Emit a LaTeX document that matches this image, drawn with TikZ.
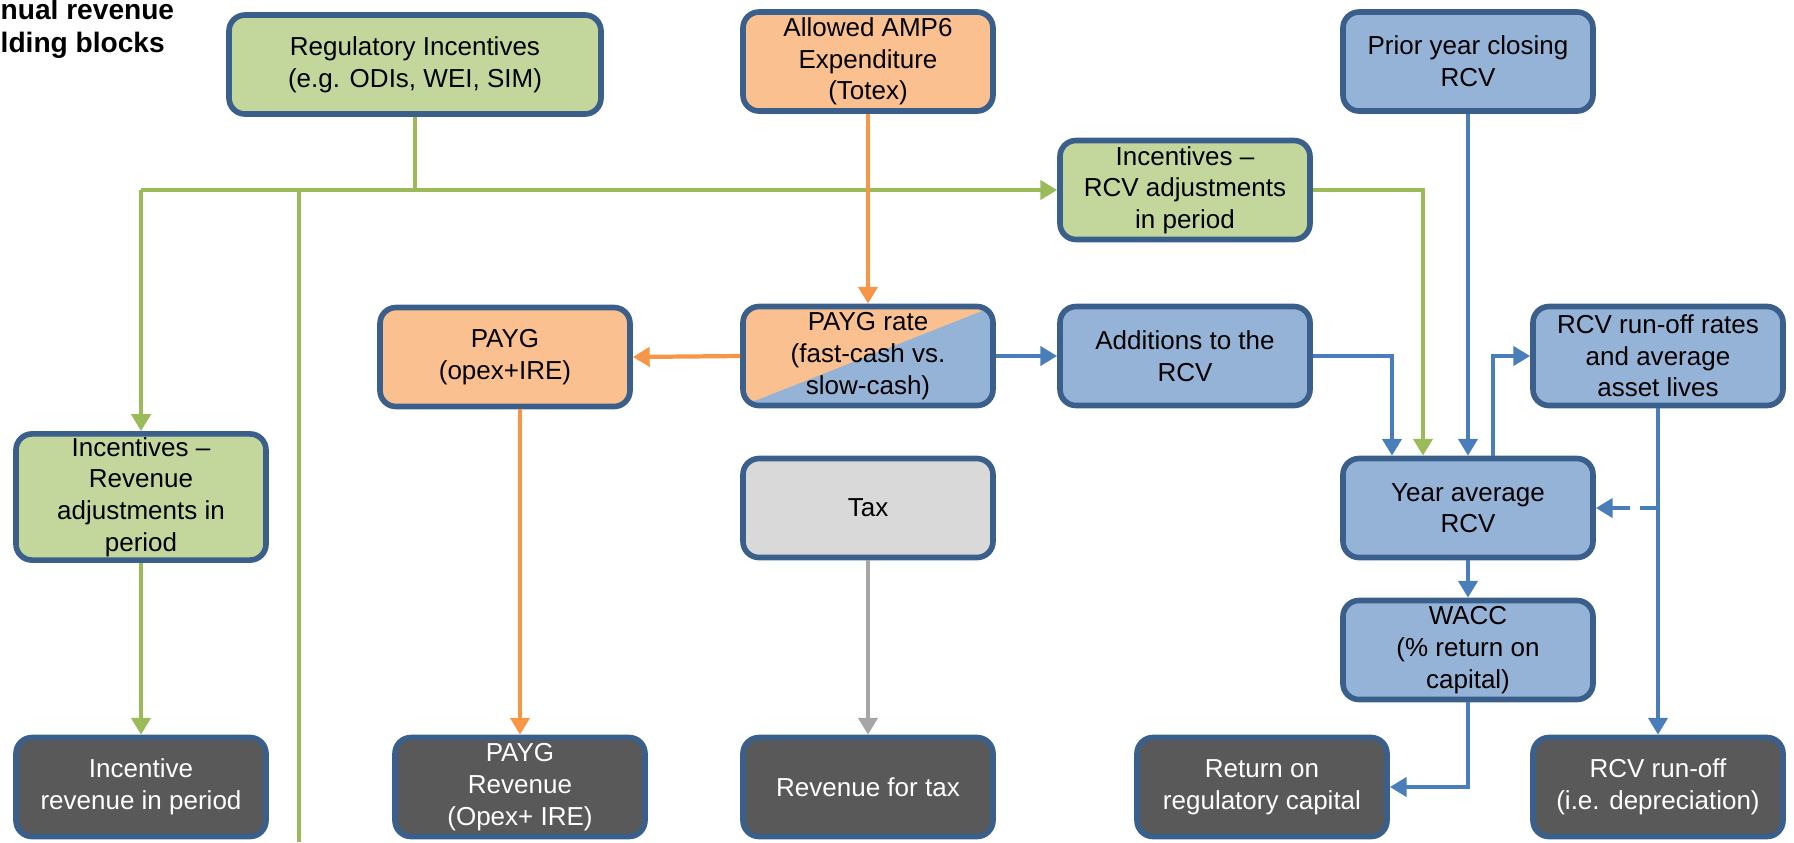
\documentclass[tikz,border=0pt]{standalone}
\usepackage{fontspec}
\setmainfont{Liberation Sans}
\usetikzlibrary{arrows.meta}
\definecolor{bordc}{HTML}{3A5F8B}
\definecolor{grnfill}{HTML}{C3D69B}
\definecolor{grnline}{HTML}{9BBB59}
\definecolor{orgfill}{HTML}{FAC090}
\definecolor{orgline}{HTML}{F79646}
\definecolor{blufill}{HTML}{95B3D7}
\definecolor{bluline}{HTML}{4A7EBB}
\definecolor{gryfill}{HTML}{D9D9D9}
\definecolor{gryline}{HTML}{A6A6A6}
\definecolor{drkfill}{HTML}{595959}

\begin{document}
\begin{tikzpicture}[
  blk/.style={draw=bordc, line width=1.6pt, rounded corners=1.6mm, minimum width=2.5cm,
    minimum height=0.99cm, align=center, inner sep=1pt, font=\fontsize{7.4}{9}\selectfont},
  grnbox/.style={blk, fill=grnfill},
  orgbox/.style={blk, fill=orgfill},
  blubox/.style={blk, fill=blufill},
  grybox/.style={blk, fill=gryfill},
  drkbox/.style={blk, fill=drkfill, text=white},
  link/.style={line width=1.2pt, -{Triangle[width=5.4pt,length=4.8pt]}},
  plain/.style={line width=1.2pt}
]
\useasboundingbox (0,0) rectangle (17.94,-8.42);

% title
\node[anchor=north west, align=left, inner sep=0pt, font=\fontsize{8}{9.5}\selectfont\bfseries] (title) at (0,0.02) {nual revenue\\lding blocks};

% top row
\node[grnbox, minimum width=3.72cm] (RegInc) at (4.15,-0.645) {Regulatory Incentives\\(e.g. ODIs, WEI, SIM)};
\node[orgbox] (Totex) at (8.68,-0.615) {Allowed AMP6\\Expenditure\\(Totex)};
\node[blubox] (PriorRCV) at (14.68,-0.615) {Prior year closing\\RCV};
\node[grnbox] (IncRCV) at (11.85,-1.90) {Incentives --\\RCV adjustments\\in period};

% middle rows
\node[orgbox] (PAYG) at (5.05,-3.57) {PAYG\\(opex+IRE)};
\node[blubox, path picture={\fill[orgfill] (path picture bounding box.south west) --
  (path picture bounding box.north east) -- (path picture bounding box.north west) -- cycle;}]
  (PAYGrate) at (8.68,-3.56) {PAYG rate\\(fast-cash vs.\\slow-cash)};
\node[blubox] (AddRCV) at (11.85,-3.56) {Additions to the\\RCV};
\node[blubox] (RunRates) at (16.58,-3.56) {RCV run-off rates\\and average\\asset lives};
\node[grnbox] (IncRev) at (1.41,-4.97) {Incentives --\\Revenue\\adjustments in\\period};
\node[grybox] (Tax) at (8.68,-5.08) {Tax};
\node[blubox] (YearRCV) at (14.68,-5.08) {Year average\\RCV};
\node[blubox] (WACC) at (14.68,-6.50) {WACC\\(\% return on\\capital)};

% bottom row
\node[drkbox] (IncOut) at (1.41,-7.87) {Incentive\\revenue in period};
\node[drkbox] (PAYGOut) at (5.20,-7.87) {PAYG\\Revenue\\(Opex+ IRE)};
\node[drkbox] (TaxOut) at (8.68,-7.87) {Revenue for tax};
\node[drkbox] (RetOut) at (12.62,-7.87) {Return on\\regulatory capital};
\node[drkbox] (RunOut) at (16.58,-7.87) {RCV run-off\\(i.e. depreciation)};

\coordinate (split) at (RegInc.south |- IncRCV.west);
\coordinate (offpage) at (2.99,-8.42);

% green links
\draw[plain, grnline] (RegInc.south) -- (split);
\draw[link, grnline] (IncRev.north |- split) -- (IncRCV.west);
\draw[link, grnline] (IncRev.north |- split) -- (IncRev.north);
\draw[plain, grnline] (offpage |- split) -- (offpage);
\draw[link, grnline] (IncRev.south) -- (IncOut.north);
\draw[link, grnline] (IncRCV.east) -| ([xshift=-0.45cm]YearRCV.north);

% orange links
\draw[link, orgline] (Totex.south) -- (PAYGrate.north);
\draw[link, orgline] (PAYGrate.west) -- (PAYG.east);
\draw[link, orgline] (PAYG.south -| PAYGOut.north) -- (PAYGOut.north);

% grey link
\draw[link, gryline] (Tax.south) -- (TaxOut.north);

% blue links
\draw[link, bluline] (PAYGrate.east) -- (AddRCV.west);
\draw[link, bluline] (AddRCV.east) -| ([xshift=-0.76cm]YearRCV.north);
\draw[link, bluline] (PriorRCV.south) -- (YearRCV.north);
\draw[link, bluline] ([xshift=0.25cm]YearRCV.north) |- (RunRates.west);
\draw[link, bluline] (RunRates.south) -- (RunOut.north);
\draw[link, bluline, dash pattern=on 5pt off 3pt] (RunRates.south |- YearRCV.east) -- (YearRCV.east);
\draw[link, bluline] (YearRCV.south) -- (WACC.north);
\draw[link, bluline] (WACC.south) |- (RetOut.east);
\end{tikzpicture}
\end{document}
